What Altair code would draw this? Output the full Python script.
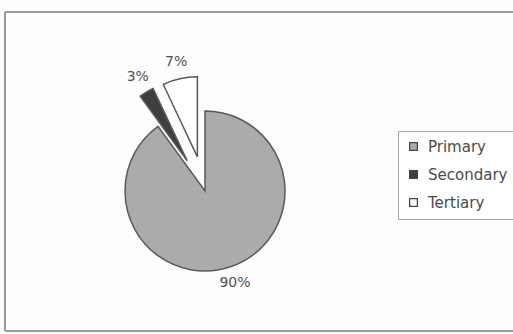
import math
import altair as alt
import pandas as pd

# Sector shares (%)
categories = ["Primary", "Secondary", "Tertiary"]
shares = [90, 3, 7]
labels = ["90%", "3%", "7%"]
exploded = [False, True, True]

fill_colors = ["#ababab", "#3f3f3f", "#ffffff"]

df = pd.DataFrame({
    "category": categories,
    "share": shares,
    "label": labels,
    "order": list(range(len(categories))),
})

FONT = "DejaVu Sans"
CX, CY = 205, 191          # pie centre
R = 80                     # pie radius
LABEL_R = 97               # label distance from slice centre
EXPLODE = 35               # pull-out distance for exploded slices

theta_scale = alt.Scale(domain=[0, sum(shares)], range=[0, 2 * math.pi])
color_scale = alt.Scale(domain=categories, range=fill_colors)

base = (
    alt.Chart(df)
    .transform_stack(stack="share", groupby=[], as_=["s0", "s1"],
                     sort=[alt.SortField("order", order="ascending")])
    .transform_calculate(mid="(datum.s0 + datum.s1) / 2")
)

layers = []
cum = 0
for i, cat in enumerate(categories):
    mid_angle = (cum + shares[i] / 2) / sum(shares) * 2 * math.pi
    cum += shares[i]
    d = EXPLODE if exploded[i] else 0
    dx = d * math.sin(mid_angle)
    dy = -d * math.cos(mid_angle)

    part = base.transform_filter(alt.datum.category == cat)
    arc = part.mark_arc(
        radius=R, xOffset=dx, yOffset=dy,
        stroke="#5a5a5a", strokeWidth=1.5, strokeJoin="miter",
    ).encode(
        x=alt.value(CX), y=alt.value(CY),
        theta=alt.Theta("s0:Q", scale=theta_scale),
        theta2="s1:Q",
        color=alt.Color(
            "category:N", scale=color_scale, sort=categories,
            legend=alt.Legend(
                title=None, orient="none", legendX=398, legendY=131,
                direction="vertical",
                symbolType="square", symbolSize=60,
                symbolStrokeColor="#444444", symbolStrokeWidth=1.2,
                labelFont=FONT, labelFontSize=15, labelColor="#4a4a4a",
                labelOffset=7, rowPadding=12, padding=8,
                strokeColor="#a8a8a8", fillColor="#ffffff",
            ),
        ),
    )
    text = part.mark_text(
        radius=LABEL_R, xOffset=dx, yOffset=dy,
        font=FONT, fontSize=14, color="#505050", baseline="middle",
    ).encode(
        x=alt.value(CX), y=alt.value(CY),
        theta=alt.Theta("mid:Q", scale=theta_scale),
        text="label:N",
    )
    layers += [arc, text]

# Outer frame of the chart area (top, left and bottom edges)
frame_color = "#9a9a9a"
frame = [
    alt.Chart(df).mark_rule(color=frame_color, strokeWidth=2).encode(
        x=alt.value(5), x2=alt.value(513), y=alt.value(12)),
    alt.Chart(df).mark_rule(color=frame_color, strokeWidth=2).encode(
        x=alt.value(5), y=alt.value(12), y2=alt.value(331)),
    alt.Chart(df).mark_rule(color=frame_color, strokeWidth=2).encode(
        x=alt.value(5), x2=alt.value(513), y=alt.value(331)),
]

chart = (
    alt.layer(*frame, *layers)
    .properties(width=513, height=334, autosize="none", padding=0,
                background="#fdfdfd")
    .configure_view(stroke=None)
)

chart.save("out.html", embed_options={"renderer": "svg", "actions": False})
